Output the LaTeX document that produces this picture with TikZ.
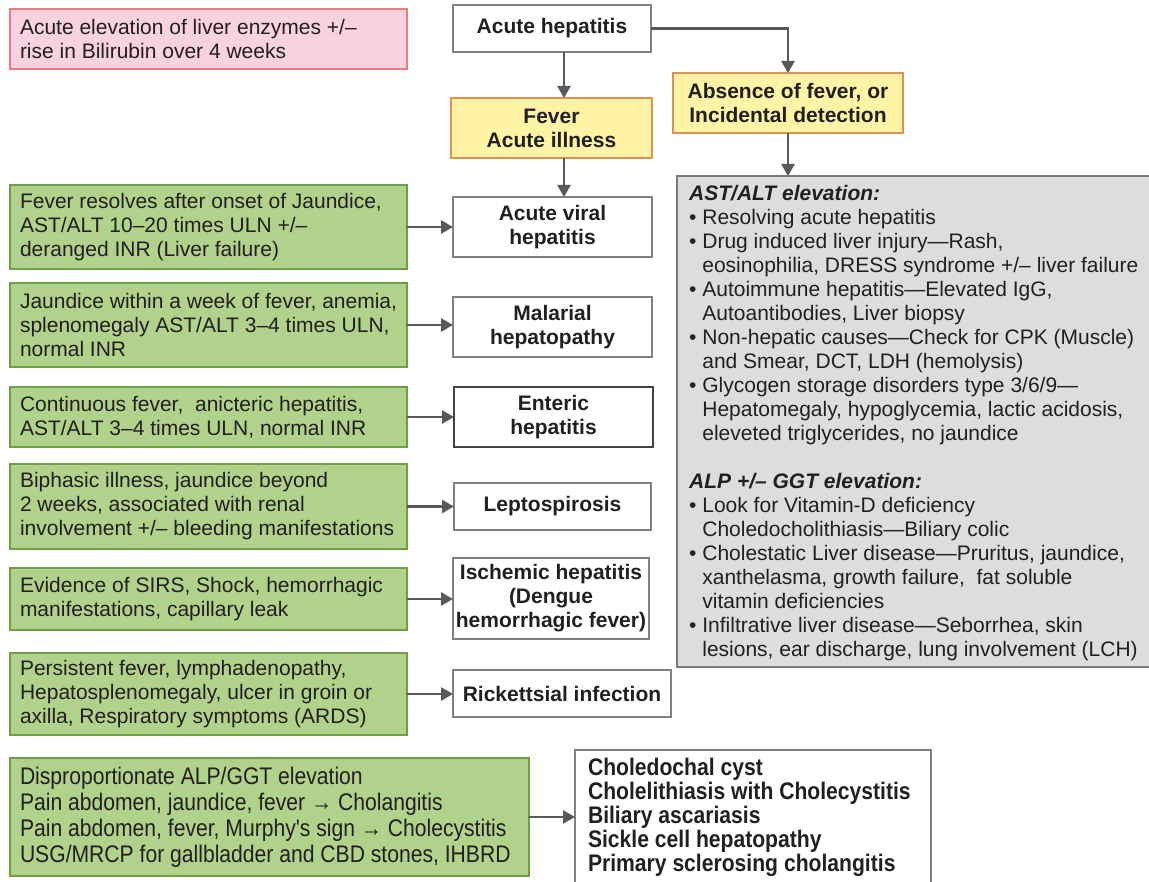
\documentclass[tikz,border=0pt]{standalone}
\usepackage{fontspec}
\setmainfont{Liberation Sans}
\newfontfamily\narrowfont[FakeStretch=0.88]{Liberation Sans}
\usetikzlibrary{arrows.meta}
\definecolor{txt}{HTML}{231F20}
\definecolor{pinkfill}{HTML}{F9D2DF}
\definecolor{pinkborder}{HTML}{EE7B7B}
\definecolor{yelfill}{HTML}{FFF4A6}
\definecolor{yelborder}{HTML}{E0914F}
\definecolor{gfill}{HTML}{B1D28B}
\definecolor{gborder}{HTML}{6F9E45}
\definecolor{grayfill}{HTML}{DCDDDF}
\definecolor{grayborder}{HTML}{7A7A7A}
\definecolor{wborder}{HTML}{808080}
\definecolor{arrowc}{HTML}{58595B}
\begin{document}
\begin{tikzpicture}[x=1pt,y=-1pt,
  box/.style={draw, line width=1.3pt, inner sep=0pt, outer sep=0pt,
    font=\fontsize{21}{24}\selectfont, text=txt},
  gbox/.style={box, draw=gborder, fill=gfill, minimum width=397pt},
  btext/.style={anchor=west, inner sep=0pt, outer sep=0pt, align=left, text=txt,
    font=\fontsize{21}{24}\selectfont},
  wbox/.style={box, draw=wborder, fill=white, align=center,
    font=\fontsize{21}{24}\selectfont\bfseries},
  ybox/.style={box, draw=yelborder, fill=yelfill, align=center,
    font=\fontsize{21}{24}\selectfont\bfseries},
  arr/.style={draw=arrowc, line width=2.7pt, -{Triangle[length=12pt,width=13pt]}}
]
\useasboundingbox (0,0) rectangle (1149,882);

% top left pink note
\node[box, draw=pinkborder, fill=pinkfill, minimum width=397pt, minimum height=60pt] (note) at (208.5,39) {};
\node[btext] (notet) at ([xshift=10pt]note.west)
  {Acute elevation of liver enzymes +/–\\rise in Bilirubin over 4 weeks};

% top flow
\node[wbox, minimum width=198pt, minimum height=47pt] (ah) at (552,28.5) {Acute hepatitis};
\node[ybox, minimum width=201pt, minimum height=60pt] (fever) at (551.5,128) {Fever\\Acute illness};
\node[ybox, minimum width=230pt, minimum height=60pt] (absence) at (788,103) {Absence of fever, or\\Incidental detection};

% gray box
\node[box, draw=grayborder, fill=grayfill, minimum width=483pt, minimum height=491pt] (gray) at (918.5,421.5) {};
\node[anchor=north west, inner sep=0pt, align=left, text=txt,
  font=\fontsize{21}{24}\selectfont] (graytext) at (689,185)
  {{\bfseries\itshape AST/ALT elevation:}\\
  • Resolving acute hepatitis\\
  • Drug induced liver injury—Rash,\\
  \hphantom{• }eosinophilia, DRESS syndrome +/– liver failure\\
  • Autoimmune hepatitis—Elevated IgG,\\
  \hphantom{• }Autoantibodies, Liver biopsy\\
  • Non-hepatic causes—Check for CPK (Muscle)\\
  \hphantom{• }and Smear, DCT, LDH (hemolysis)\\
  • Glycogen storage disorders type 3/6/9—\\
  \hphantom{• }Hepatomegaly, hypoglycemia, lactic acidosis,\\
  \hphantom{• }eleveted triglycerides, no jaundice\\[24pt]
  {\bfseries\itshape ALP +/– GGT elevation:}\\
  • Look for Vitamin-D deficiency\\
  \hphantom{• }Choledocholithiasis—Biliary colic\\
  • Cholestatic Liver disease—Pruritus, jaundice,\\
  \hphantom{• }xanthelasma, growth failure,\ \ fat soluble\\
  \hphantom{• }vitamin deficiencies\\
  • Infiltrative liver disease—Seborrhea, skin\\
  \hphantom{• }lesions, ear discharge, lung involvement (LCH)};

% green condition boxes
\node[gbox, minimum height=84pt] (g1) at (208.5,227) {};
\node[btext] (g1t) at ([xshift=10pt]g1.west)
  {Fever resolves after onset of Jaundice,\\AST/ALT 10–20 times ULN +/–\\deranged INR (Liver failure)};
\node[gbox, minimum height=84pt] (g2) at (208.5,325) {};
\node[btext] (g2t) at ([xshift=10pt]g2.west)
  {Jaundice within a week of fever, anemia,\\splenomegaly AST/ALT 3–4 times ULN,\\normal INR};
\node[gbox, minimum height=60pt] (g3) at (208.5,417) {};
\node[btext] (g3t) at ([xshift=10pt]g3.west)
  {Continuous fever,\ \ anicteric hepatitis,\\AST/ALT 3–4 times ULN, normal INR};
\node[gbox, minimum height=85pt] (g4) at (208.5,506.5) {};
\node[btext] (g4t) at ([xshift=10pt]g4.west)
  {Biphasic illness, jaundice beyond\\2 weeks, associated with renal\\involvement +/– bleeding manifestations};
\node[gbox, minimum height=62pt] (g5) at (208.5,599) {};
\node[btext] (g5t) at ([xshift=10pt]g5.west)
  {Evidence of SIRS, Shock, hemorrhagic\\manifestations, capillary leak};
\node[gbox, minimum height=82pt] (g6) at (208.5,694) {};
\node[btext] (g6t) at ([xshift=10pt]g6.west)
  {Persistent fever, lymphadenopathy,\\Hepatosplenomegaly, ulcer in groin or\\axilla, Respiratory symptoms (ARDS)};
\node[gbox, minimum width=519pt, minimum height=118pt] (g7) at (269.5,817) {};
\node[btext, font=\narrowfont\fontsize{24}{26}\selectfont] (g7t) at ([xshift=10pt]g7.west)
  {Disproportionate ALP/GGT elevation\\Pain abdomen, jaundice, fever → Cholangitis\\Pain abdomen, fever, Murphy's sign → Cholecystitis\\USG/MRCP for gallbladder and CBD stones, IHBRD};

% diagnosis boxes
\node[wbox, minimum width=199pt, minimum height=60pt] (viral) at (552.5,227) {Acute viral\\hepatitis};
\node[wbox, minimum width=199pt, minimum height=60pt] (malarial) at (552.5,327) {Malarial\\hepatopathy};
\node[wbox, draw=txt!85, minimum width=199pt, minimum height=60pt] (enteric) at (553.5,417) {Enteric\\hepatitis};
\node[wbox, minimum width=197pt, minimum height=47pt] (lepto) at (552.5,506.5) {Leptospirosis};
\node[wbox, minimum width=196pt, minimum height=81pt] (ischemic) at (551,598.5) {Ischemic hepatitis\\(Dengue\\hemorrhagic fever)};
\node[wbox, minimum width=218pt, minimum height=47pt] (rick) at (562,693.5) {Rickettsial infection};
\node[box, draw=wborder, fill=white, minimum width=356pt, minimum height=134pt] (biliary) at (753,817) {};
\node[btext, font=\narrowfont\fontsize{24}{24}\selectfont\bfseries] (biliaryt) at ([xshift=13pt]biliary.west)
  {Choledochal cyst\\Cholelithiasis with Cholecystitis\\Biliary ascariasis\\Sickle cell hepatopathy\\Primary sclerosing cholangitis};

% connectors
\coordinate (xl) at (564,0);
\draw[arr] (ah.south -| xl) -- (fever.north -| xl);
\draw[arr] (fever.south -| xl) -- (viral.north -| xl);
\draw[arr] (ah.east) -| (absence.north);
\draw[arr] (absence.south) -- (absence.south |- gray.north);
\foreach \g/\w in {g1/viral, g2/malarial, g3/enteric, g4/lepto, g5/ischemic, g6/rick, g7/biliary}
  \draw[arr] (\g.east) -- (\g.east -| \w.west);
\end{tikzpicture}
\end{document}
